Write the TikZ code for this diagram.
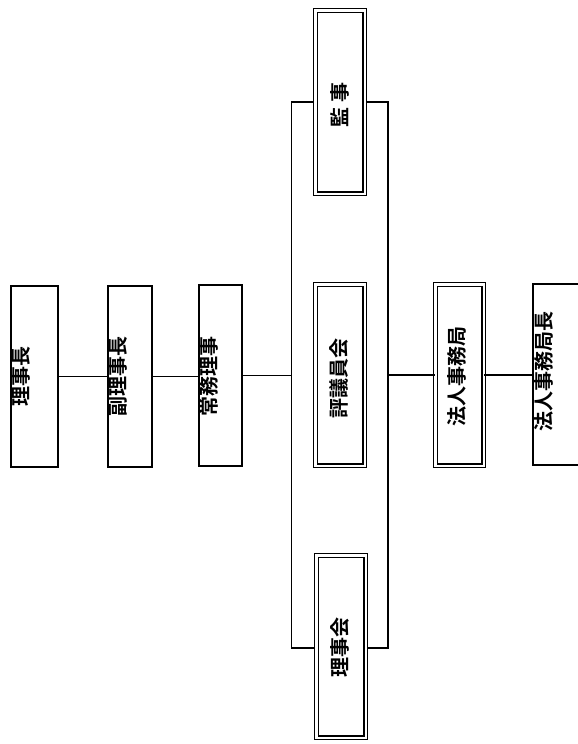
\documentclass[tikz,border=0pt]{standalone}
\usepackage{fontspec}
\newfontfamily\cjkb{Noto Sans CJK JP Bold}
\begin{document}
\begin{tikzpicture}[x=1pt,y=-1pt,
  box/.style={draw, line width=1.8pt, fill=white, inner sep=0pt},
  dbox/.style={draw, line width=1.3pt, double, double distance=2.2pt, fill=white, inner sep=0pt},
  frame/.style={draw, line width=1.6pt, inner sep=0pt},
  lbl/.style={rotate=90, font=\cjkb\fontsize{20}{20}\selectfont, inner sep=0pt},
  conn/.style={line width=1.9pt}]
\useasboundingbox (0,0) rectangle (578,744);
\clip (0,0) rectangle (578,744);
\fill[white] (0,0) rectangle (578,744);
% bracket frame
\node[frame, minimum width=96.5pt, minimum height=546pt] (br) at (339.75,375) {};
% single boxes
\node[box, minimum width=47.2pt, minimum height=181.2pt] (b1) at (34.5,376.5) {};
\node[box, minimum width=44.2pt, minimum height=181.2pt] (b2) at (130,376.5) {};
\node[box, minimum width=43.2pt, minimum height=181.2pt] (b3) at (220.5,375.5) {};
\node[box, minimum width=67.2pt, minimum height=181.2pt] (b6) at (566.4,374.5) {};
% double boxes
\node[dbox, minimum width=49.2pt, minimum height=183.2pt] (kanji) at (340,102) {};
\node[dbox, minimum width=49.2pt, minimum height=181.2pt] (hyogi) at (340,375) {};
\node[dbox, minimum width=49.2pt, minimum height=182.2pt] (rijikai) at (341,646.5) {};
\node[dbox, minimum width=48.2pt, minimum height=181.2pt] (b5) at (459.5,375) {};
% labels
\node[lbl] (t1) at (20.5,376) {理事長};
\node[lbl] (t2) at (118,376) {副理事長};
\node[lbl] (t3) at (209,376) {常務理事};
\node[lbl] (t4) at (339,378) {評議員会};
\node[lbl] (t5) at (457,376) {法人事務局};
\node[lbl] (t6) at (544,371) {法人事務局長};
\node[lbl] (t7) at (340,105) {監 事};
\node[lbl] (t8) at (340,647) {理事会};
% connectors
\draw[conn] (b1.east) -- (b1.east -| b2.west);
\draw[conn] (b2.east) -- (b2.east -| b3.west);
\draw[conn] (b3.east) -- (b3.east -| br.west);
\draw[conn] (br.east) -- (br.east -| b5.west);
\draw[conn] (b5.east) -- (b5.east -| b6.west);
\end{tikzpicture}
\end{document}
